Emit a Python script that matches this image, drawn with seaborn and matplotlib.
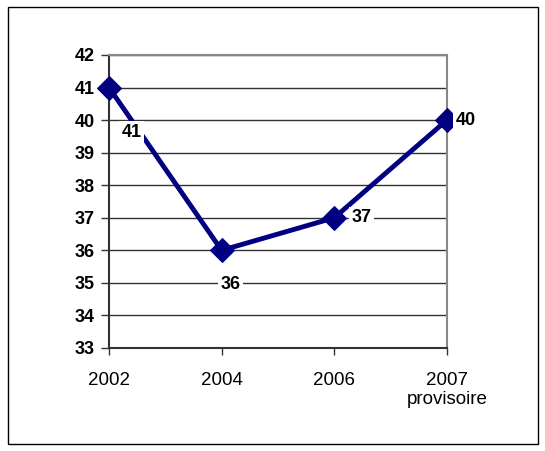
import pandas as pd
import seaborn as sns
import matplotlib.pyplot as plt
from matplotlib.patches import Rectangle

# Data
years = ["2002", "2004", "2006", "2007\nprovisoire"]
values = [41, 36, 37, 40]

df = pd.DataFrame({"year": years, "value": values})

sns.set_style("white")
plt.rcParams["font.family"] = ["Liberation Sans", "DejaVu Sans"]
plt.rcParams["text.color"] = "black"
plt.rcParams["xtick.labelcolor"] = "black"
plt.rcParams["ytick.labelcolor"] = "black"

fig = plt.figure(figsize=(5.45, 4.51), dpi=100)
ax = fig.add_axes([0.2, 0.2284, 0.62, 0.6497])

# Outer frame around the whole chart
fig.patches.append(Rectangle((8 / 545, 7 / 451), 530 / 545, 437 / 451,
                             transform=fig.transFigure, fill=False,
                             edgecolor="black", linewidth=1))

sns.lineplot(data=df, x="year", y="value", sort=False, ax=ax,
             color="#000080", linewidth=3.5, marker="D", markersize=12,
             markeredgecolor="#000080", zorder=3, clip_on=False)

ax.set_xlim(0, 3)
ax.set_ylim(33, 42)
ax.set_yticks(range(33, 43))
ax.yaxis.grid(True, color="#333333", linewidth=1)
ax.set_axisbelow(True)
ax.set_xlabel("")
ax.set_ylabel("")

for side in ["left", "bottom"]:
    ax.spines[side].set_color("#333333")
    ax.spines[side].set_linewidth(1.5)
for side in ["top", "right"]:
    ax.spines[side].set_color("#888888")
    ax.spines[side].set_linewidth(1.5)

ax.tick_params(axis="y", direction="out", length=6, width=1, color="#333333",
               labelsize=13, pad=4)
ax.tick_params(axis="x", direction="out", length=5, width=1, color="#333333",
               labelsize=13.5, pad=12)
ax.tick_params(axis="y", left=True)
ax.tick_params(axis="x", bottom=True)
for lbl in ax.get_yticklabels():
    lbl.set_fontweight("bold")

# Data labels with white background, as in the original
offsets = [(0.2, -1.38), (0.08, -1.04), (0.24, 0.0), (0.17, 0.0)]
for i, (v, (dx, dy)) in enumerate(zip(values, offsets)):
    ax.text(i + dx, v + dy, str(v), ha="center", va="center",
            fontsize=13, fontweight="bold", zorder=4, color="black",
            bbox=dict(facecolor="white", edgecolor="none", pad=2))

fig.savefig("out.png", dpi=100)
